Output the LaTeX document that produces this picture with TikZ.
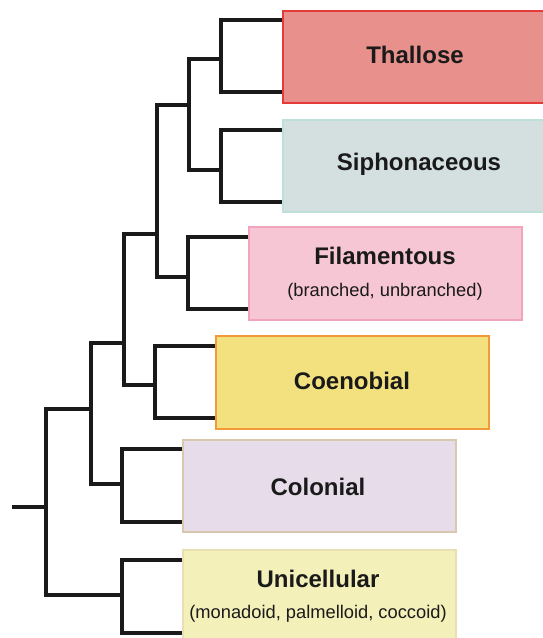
\documentclass[tikz,border=0pt]{standalone}
\usepackage{fontspec}
\setmainfont{Liberation Sans}
\definecolor{thalF}{HTML}{E8908C}
\definecolor{thalD}{HTML}{E43A3A}
\definecolor{siphF}{HTML}{D4E0E0}
\definecolor{siphD}{HTML}{BEE0DA}
\definecolor{filF}{HTML}{F6C6D4}
\definecolor{filD}{HTML}{F2A4BC}
\definecolor{coenF}{HTML}{F3E17F}
\definecolor{coenD}{HTML}{F29A3A}
\definecolor{colF}{HTML}{E6DCEA}
\definecolor{colD}{HTML}{D8C8AE}
\definecolor{uniF}{HTML}{F3F0B9}
\definecolor{uniD}{HTML}{EADFB2}
\definecolor{ink}{HTML}{1A1A1A}
\begin{document}
\begin{tikzpicture}[x=1pt,y=-1pt,
  tree/.style={line width=3.6pt, draw=ink, line join=miter},
  box/.style={rectangle, line width=1.8pt, anchor=north west, inner sep=0pt},
  ttl/.style={font=\bfseries\fontsize{24}{28}\selectfont, text=ink, inner sep=0pt},
  sub/.style={font=\fontsize{18.3}{22}\selectfont, text=ink, inner sep=0pt}]
\useasboundingbox (0,0) rectangle (542,638);
% boxes
\node[box, fill=thalF, draw=thalD, minimum width=265pt, minimum height=92pt] (thal) at (282,10) {};
\node[box, fill=siphF, draw=siphD, minimum width=265pt, minimum height=92pt] (siph) at (282,119) {};
\node[box, fill=filF, draw=filD, minimum width=273pt, minimum height=93pt] (fil) at (248,226) {};
\node[box, fill=coenF, draw=coenD, minimum width=273pt, minimum height=93pt] (coen) at (215,335) {};
\node[box, fill=colF, draw=colD, minimum width=273pt, minimum height=92pt] (col) at (182,439) {};
\node[box, fill=uniF, draw=uniD, minimum width=273pt, minimum height=95pt] (uni) at (182,549) {};
% labels
\node[ttl] (thalT) at (415,55) {Thallose};
\node[ttl] (siphT) at (419,164) {Siphonaceous};
\node[ttl] (filT) at (385,256) {Filamentous};
\node[sub] (filS) at (385,292) {(branched, unbranched)};
\node[ttl] (coenT) at (352,381) {Coenobial};
\node[ttl] (colT) at (318,487) {Colonial};
\node[ttl] (uniT) at (318,579) {Unicellular};
\node[sub] (uniS) at (318,614) {(monadoid, palmelloid, coccoid)};
% tree
\draw[tree] (thal.west |- 0,20) -| (221,92) -- (thal.west |- 0,92);
\draw[tree] (siph.west |- 0,130) -| (221,202) -- (siph.west |- 0,202);
\draw[tree] (221,59) -| (189,170) -- (221,170);
\draw[tree] (fil.west |- 0,237) -| (188,309) -- (fil.west |- 0,309);
\draw[tree] (189,105) -| (157,277) -- (188,277);
\draw[tree] (157,234) -| (124,385) -- (155,385);
\draw[tree] (coen.west |- 0,346) -| (155,418) -- (coen.west |- 0,418);
\draw[tree] (124,343) -| (91,484) -- (122,484);
\draw[tree] (col.west |- 0,449) -| (122,522) -- (col.west |- 0,522);
\draw[tree] (91,409) -| (46,595) -- (122,595);
\draw[tree] (uni.west |- 0,560) -| (122,633) -- (uni.west |- 0,633);
\coordinate (root) at (12,507);
\draw[tree] (root) -- (46,507);
\end{tikzpicture}
\end{document}
